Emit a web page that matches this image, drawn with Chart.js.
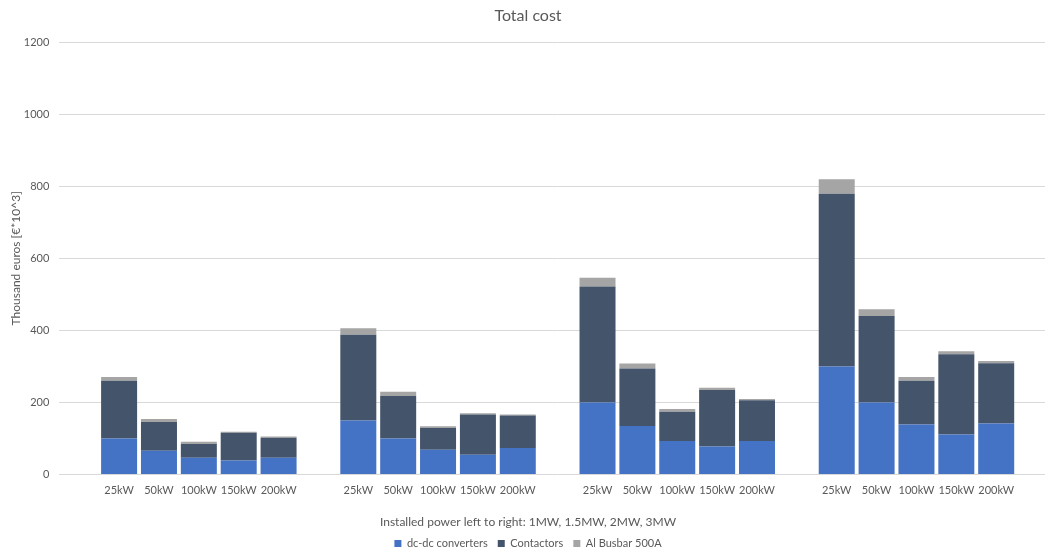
<!DOCTYPE html>
<html>
<head>
<meta charset="utf-8">
<script src="https://cdn.jsdelivr.net/npm/chart.js@4.4.1/dist/chart.umd.min.js"></script>
<style>
  html, body { margin: 0; padding: 0; background: #ffffff; overflow: hidden; }
  #wrap { width: 1045px; height: 552px; overflow: hidden; position: relative; }
  canvas { display: block; }
</style>
</head>
<body>
<div id="wrap"><canvas id="c" width="1059" height="559"></canvas></div>
<script>
// ---- Data (thousand euros) ----
const powerLabels = ['25kW', '50kW', '100kW', '150kW', '200kW'];
const installedPower = ['1MW', '1.5MW', '2MW', '3MW'];

const dcdc_1MW   = [100, 66, 47, 39, 47];
const dcdc_1_5MW = [150, 100, 69, 55, 74];
const dcdc_2MW   = [200, 135, 93, 78, 93];
const dcdc_3MW   = [300, 200, 139, 111, 142];

const contactors_1MW   = [160, 80, 38, 77, 55];
const contactors_1_5MW = [238, 118, 60, 112, 90];
const contactors_2MW   = [322, 159, 81, 157, 113];
const contactors_3MW   = [479, 240, 121, 223, 167];

const busbar_1MW   = [11, 8, 6, 3, 4];
const busbar_1_5MW = [18, 12, 5, 3, 3];
const busbar_2MW   = [24, 14, 8, 6, 4];
const busbar_3MW   = [40, 19, 11, 8, 6];

const yTicks = [0, 200, 400, 600, 800, 1000, 1200];

// Build category table with empty spacer slots between groups
function withSpacers(groups) {
  const out = [null];
  groups.forEach(g => { g.forEach(v => out.push(v)); out.push(null); });
  return out;
}
const labels = withSpacers(installedPower.map(() => powerLabels)).map(v => v === null ? '' : v);
const dcdcData = withSpacers([dcdc_1MW, dcdc_1_5MW, dcdc_2MW, dcdc_3MW]);
const contData = withSpacers([contactors_1MW, contactors_1_5MW, contactors_2MW, contactors_3MW]);
const busData = withSpacers([busbar_1MW, busbar_1_5MW, busbar_2MW, busbar_3MW]);

const TXT = '#595959';
const FONT = 'Lato, "Open Sans", sans-serif';

new Chart(document.getElementById('c'), {
  type: 'bar',
  data: {
    labels: labels,
    datasets: [
      { label: 'dc-dc converters', data: dcdcData, backgroundColor: '#4472C4' },
      { label: 'Contactors', data: contData, backgroundColor: '#44546A' },
      { label: 'Al Busbar 500A', data: busData, backgroundColor: '#A5A5A5' }
    ]
  },
  options: {
    responsive: false,
    animation: false,
    layout: { padding: { left: 0, right: 3, top: 0, bottom: 0 } },
    datasets: { bar: { barPercentage: 0.903, categoryPercentage: 1.0 } },
    plugins: {
      tooltip: { enabled: false },
      title: {
        display: true, text: 'Total cost', color: TXT,
        font: { family: FONT, size: 16, weight: 'normal', lineHeight: 1.2 },
        padding: { top: 6.7, bottom: 16.1 }
      },
      subtitle: {
        display: true, position: 'bottom', weight: 500,
        text: 'Installed power left to right: ' + installedPower.join(', '),
        color: TXT,
        font: { family: FONT, size: 12, weight: 'normal', lineHeight: 1 },
        padding: { top: 10.2, bottom: 0 }
      },
      legend: {
        position: 'bottom',
        labels: {
          color: TXT, boxWidth: 7, boxHeight: 7, padding: 10,
          font: { family: FONT, size: 11 }
        }
      }
    },
    scales: {
      x: {
        stacked: true,
        grid: { display: false, drawTicks: false },
        border: { display: false },
        ticks: {
          color: TXT, padding: 9, autoSkip: false, maxRotation: 0,
          font: { family: FONT, size: 11 }
        }
      },
      y: {
        stacked: true,
        min: 0, max: 1200,
        afterBuildTicks: (s) => { s.ticks = yTicks.map(v => ({ value: v })); },
        afterFit: (s) => { s.width = 59.3; },
        grid: { color: '#D9D9D9', drawTicks: false, lineWidth: 1 },
        border: { display: false },
        ticks: {
          color: TXT, padding: 10,
          font: { family: FONT, size: 11 },
          callback: (v) => String(v)
        },
        title: {
          display: true, text: 'Thousand euros [€*10^3]', color: TXT,
          font: { family: FONT, size: 12 },
          padding: { top: 9, bottom: 0 }
        }
      }
    }
  }
});
</script>
</body>
</html>
